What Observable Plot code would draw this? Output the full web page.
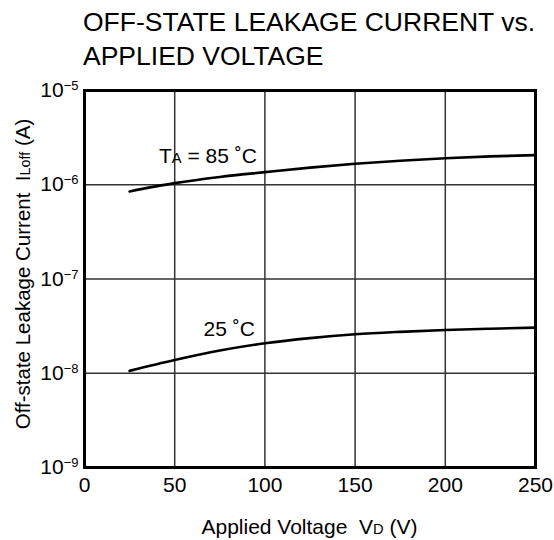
<!DOCTYPE html>
<html>
<head>
<meta charset="utf-8">
<script src="https://cdn.jsdelivr.net/npm/d3@7"></script>
<script src="https://cdn.jsdelivr.net/npm/@observablehq/plot@0.6"></script>
<style>
  body { margin: 0; background: #fff; }
  #chart { position: relative; width: 554px; height: 540px; font-family: "Liberation Sans", Arial, sans-serif; color: #000; }
  #title { position: absolute; left: 83px; top: 5px; font-size: 26.5px; line-height: 34px; white-space: nowrap; }
  #plot { position: absolute; left: 0; top: 70px; }
</style>
</head>
<body>
<div id="chart">
  <div id="title">OFF-STATE LEAKAGE CURRENT vs.<br>APPLIED VOLTAGE</div>
  <div id="plot"></div>
</div>
<script>
// ---- data ----
const voltage = [25, 50, 75, 100, 125, 150, 175, 200, 225, 250];
const leak85 = [8.5e-7, 1.04e-6, 1.21e-6, 1.36e-6, 1.52e-6, 1.67e-6, 1.80e-6, 1.91e-6, 2.0e-6, 2.06e-6];
const leak25 = [1.06e-8, 1.38e-8, 1.74e-8, 2.08e-8, 2.36e-8, 2.59e-8, 2.75e-8, 2.88e-8, 2.97e-8, 3.05e-8];
const xTicks = [0, 50, 100, 150, 200, 250];
const yTicks = [1e-9, 1e-8, 1e-7, 1e-6, 1e-5];
const seriesNames = ["85", "25"];
const curveLabels = [
  {series: "85", anchorV: 100, main: "T", sub: "A", rest: " = 85 ˚C"},
  {series: "25", anchorV: 100, main: "", sub: "", rest: "25 ˚C"}
];
const xLabel = {main: "Applied Voltage  V", sub: "D", rest: " (V)"};
const yLabel = {main: "Off-state Leakage Current  I", sub: "Loff", rest: " (A)"};

// build table
const rows = [];
voltage.forEach((v, i) => {
  rows.push({series: seriesNames[0], v, i: leak85[i]});
  rows.push({series: seriesNames[1], v, i: leak25[i]});
});
const labelRows = curveLabels.map(l => {
  const arr = l.series === "85" ? leak85 : leak25;
  return {...l, v: l.anchorV, i: arr[voltage.indexOf(l.anchorV)]};
});

const FS = 21;
const plot = Plot.plot({
  width: 554,
  height: 470,
  marginTop: 20,
  marginBottom: 73,
  marginLeft: 84,
  marginRight: 19,
  style: {fontFamily: "'Liberation Sans', Arial, sans-serif", fontSize: FS + "px", color: "#000", background: "#fff", overflow: "visible"},
  x: {domain: [0, 250], ticks: xTicks, label: null, tickSize: 0, tickPadding: 10},
  y: {type: "log", domain: [1e-9, 1e-5], ticks: yTicks, label: null, tickSize: 0, tickPadding: 6,
      tickFormat: d => String(Math.round(Math.log10(d)))},
  marks: [
    Plot.gridX(xTicks.slice(1, -1), {stroke: "#333", strokeOpacity: 1, strokeWidth: 1.5}),
    Plot.gridY(yTicks.slice(1, -1), {stroke: "#333", strokeOpacity: 1, strokeWidth: 1.5}),
    Plot.line(rows, {x: "v", y: "i", z: "series", stroke: "#000", strokeWidth: 2.6, curve: "monotone-x"}),
    Plot.text(labelRows.filter(d => d.series === "85"), {x: "v", y: "i", text: d => d.main + d.sub + d.rest,
      textAnchor: "end", dx: -8, dy: -16, fontSize: FS, fill: "#000", className: "lab85"}),
    Plot.text(labelRows.filter(d => d.series === "25"), {x: "v", y: "i", text: d => d.rest,
      textAnchor: "end", dx: -10, dy: -14, fontSize: FS, fill: "#000", className: "lab25"}),
    Plot.frame({stroke: "#000", strokeWidth: 3})
  ]
});
document.getElementById("plot").appendChild(plot);

const svg = d3.select(plot);
// y tick labels as 10^n with superscripts
svg.selectAll('g[aria-label="y-axis tick label"] text').each(function() {
  const t = d3.select(this);
  const exp = t.text().replace(/\u2212/g, "-").replace("-", "\u2212");
  t.text("10");
  t.append("tspan").attr("dy", "-0.55em").attr("font-size", "0.62em").text(exp);
});
// subscript on the 85 label
svg.selectAll(".lab85 text").each(function() {
  const t = d3.select(this);
  const l = labelRows.filter(r => r.series === "85")[0];
  t.text(l.main);
  t.append("tspan").attr("font-size", "0.7em").text(l.sub);
  t.append("tspan").text(l.rest);
});
// axis titles
const gx = svg.append("text")
  .attr("x", (84 + 535) / 2).attr("y", 464)
  .attr("text-anchor", "middle").attr("font-size", FS).attr("fill", "#000");
gx.text(xLabel.main);
gx.append("tspan").attr("font-size", "0.7em").text(xLabel.sub);
gx.append("tspan").text(xLabel.rest);

const gy = svg.append("text")
  .attr("transform", `translate(30, ${274 - 70}) rotate(-90)`)
  .attr("text-anchor", "middle").attr("font-size", 20.5).attr("fill", "#000");
gy.text(yLabel.main);
gy.append("tspan").attr("font-size", "0.7em").text(yLabel.sub);
gy.append("tspan").text(yLabel.rest);
</script>
</body>
</html>
